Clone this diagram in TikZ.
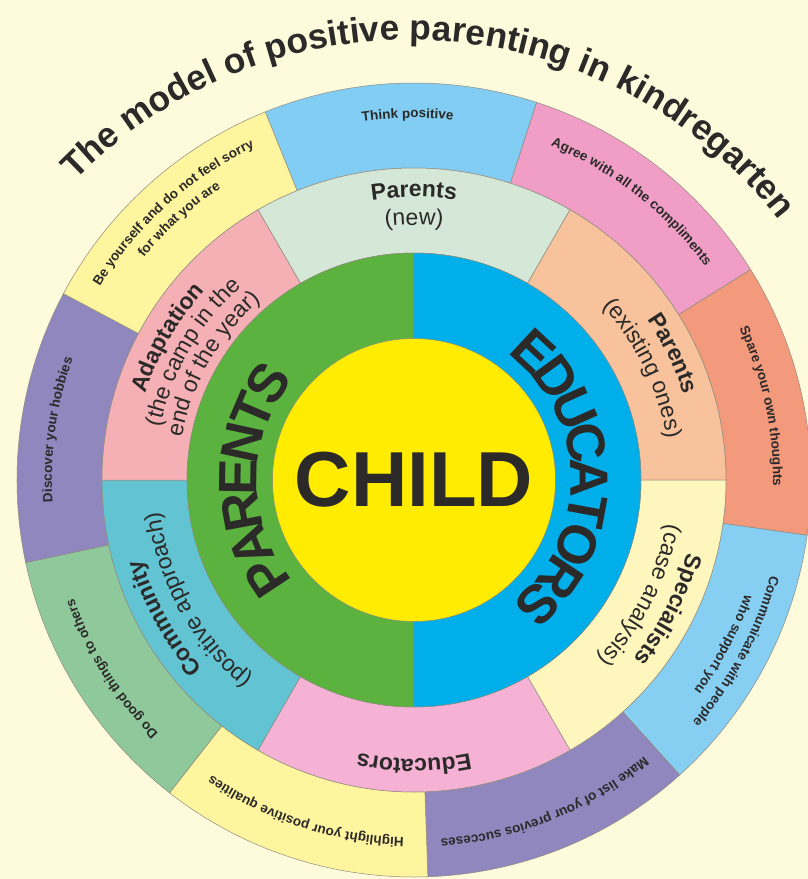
\documentclass[tikz,border=0pt]{standalone}
\usepackage{fontspec}
\setmainfont{Liberation Sans}
\usetikzlibrary{decorations.text}
\definecolor{bg}{HTML}{FEFADC}
\definecolor{txt}{HTML}{2B2A29}
\definecolor{edge}{HTML}{8E8B7E}
\definecolor{cThink}{HTML}{82CDF3}
\definecolor{cAgree}{HTML}{F09EC5}
\definecolor{cSpare}{HTML}{F3997C}
\definecolor{cComm}{HTML}{87CEF3}
\definecolor{cList}{HTML}{9087BE}
\definecolor{cHigh}{HTML}{FFF59E}
\definecolor{cGood}{HTML}{8FC99B}
\definecolor{cHobby}{HTML}{9087BE}
\definecolor{cBe}{HTML}{FFF59E}
\definecolor{cPnew}{HTML}{D5E8D8}
\definecolor{cPold}{HTML}{F8C29C}
\definecolor{cSpec}{HTML}{FFF6BE}
\definecolor{cEduc}{HTML}{F5B2D4}
\definecolor{cComy}{HTML}{62C4D3}
\definecolor{cAdap}{HTML}{F5B0B5}
\definecolor{cGreen}{HTML}{5BB23E}
\definecolor{cBlue}{HTML}{00AEEA}
\definecolor{cYel}{HTML}{FFEC00}
\newcommand\ttlf{\fontsize{35.3}{40}\selectfont\bfseries}
\newcommand\bigf{\fontsize{54}{60}\selectfont\bfseries}
\newcommand\midb{\fontsize{23}{27}\selectfont\bfseries}
\newcommand\midr{\fontsize{23}{27}\selectfont}
\newcommand\outf{\fontsize{13.5}{16}\selectfont\bfseries}
\tikzset{seg/.style={draw=edge, line width=0.5pt}}
% r1 r2 a1 a2 colour
\newcommand\ringsect[5]{%
  \filldraw[seg, fill=#5] (#3:#1) arc[start angle=#3, end angle=#4, radius=#1]
    -- (#4:#2) arc[start angle=#4, end angle=#3, radius=#2] -- cycle;}
% radius, centre angle, half span, raise, text
\newcommand\ringtxt[5]{%
  \pgfmathsetmacro\rtA{#2+#3}\pgfmathsetmacro\rtB{#2-#3}%
  \path[decorate, decoration={text along path, text align=center, text color=txt, raise=#4, text={#5}}]
    (\rtA:#1) arc[start angle=\rtA, end angle=\rtB, radius=#1];}
\begin{document}
\begin{tikzpicture}[x=1pt,y=1pt]
\useasboundingbox (-414,-399) rectangle (394,480);
\fill[bg] (-414,-399) rectangle (394,480);
\begin{scope}
\clip (-414,-399) rectangle (394,480);
% outer ring
\ringsect{312pt}{397pt}{72}{112}{cThink}
\ringsect{312pt}{397pt}{32}{72}{cAgree}
\ringsect{312pt}{397pt}{-8}{32}{cSpare}
\ringsect{312pt}{397pt}{-48}{-8}{cComm}
\ringsect{312pt}{397pt}{-88}{-48}{cList}
\ringsect{312pt}{397pt}{-128}{-88}{cHigh}
\ringsect{312pt}{397pt}{-168}{-128}{cGood}
\ringsect{312pt}{397pt}{152}{192}{cHobby}
\ringsect{312pt}{397pt}{112}{152}{cBe}
% middle ring
\ringsect{227pt}{312pt}{60}{120}{cPnew}
\ringsect{227pt}{312pt}{0}{60}{cPold}
\ringsect{227pt}{312pt}{-60}{0}{cSpec}
\ringsect{227pt}{312pt}{-120}{-60}{cEduc}
\ringsect{227pt}{312pt}{180}{240}{cComy}
\ringsect{227pt}{312pt}{120}{180}{cAdap}
% inner ring
\filldraw[seg, fill=cGreen] (90:227pt) arc[start angle=90, end angle=270, radius=227pt] -- cycle;
\filldraw[seg, fill=cBlue] (-90:227pt) arc[start angle=-90, end angle=90, radius=227pt] -- cycle;
\filldraw[seg, fill=cYel] (0,0) circle[radius=141.5pt];
\end{scope}
\node[font=\fontsize{78}{80}\selectfont\bfseries, text=txt, inner sep=0pt] (child) at (0,0) {CHILD};
% title
\begin{scope}[shift={(-4,-28)}]
\ringtxt{468pt}{86.8}{80}{0pt}{|\ttlf|The model of positive parenting in kindregarten}
\end{scope}
% inner ring text
\ringtxt{190pt}{180}{75}{-33pt}{|\bigf|PARENTS}
\ringtxt{190pt}{1}{75}{-33pt}{|\bigf|EDUCATORS}
% middle ring text
\ringtxt{283pt}{90}{60}{0pt}{|\midb|Parents}
\ringtxt{255pt}{90}{60}{0pt}{|\midr|(new)}
\ringtxt{283pt}{26}{60}{0pt}{|\midb|Parents}
\ringtxt{256pt}{26}{60}{0pt}{|\midr|(existing ones)}
\ringtxt{283pt}{-27}{60}{0pt}{|\midb|Specialists}
\ringtxt{256pt}{-27}{60}{0pt}{|\midr|(case analysis)}
\ringtxt{279pt}{-90}{60}{0pt}{|\midb|Educators}
\ringtxt{283pt}{209}{60}{0pt}{|\midb|Community}
\ringtxt{256pt}{209}{60}{0pt}{|\midr|(positive approach)}
\ringtxt{282pt}{150}{60}{0pt}{|\midb|Adaptation}
\ringtxt{259pt}{150}{60}{0pt}{|\midr|(the camp in the}
\ringtxt{236pt}{150}{60}{0pt}{|\midr|end of the year)}
% outer ring text
\ringtxt{362pt}{91}{60}{0pt}{|\outf|Think positive}
\ringtxt{361pt}{52}{60}{0pt}{|\outf|Agree with all the compliments}
\ringtxt{359pt}{12}{60}{0pt}{|\outf|Spare your own thoughts}
\ringtxt{369pt}{-28}{60}{0pt}{|\outf|Communicate with people}
\ringtxt{350pt}{-28}{60}{0pt}{|\outf|who support you}
\ringtxt{360pt}{-68}{60}{0pt}{|\outf|Make list of your previos succeses}
\ringtxt{358pt}{-108}{60}{0pt}{|\outf|Highlight your positive qualities}
\ringtxt{360pt}{-148}{60}{0pt}{|\outf|Do good things to others}
\ringtxt{362pt}{172}{60}{0pt}{|\outf|Discover your hobbies}
\ringtxt{369pt}{132}{60}{0pt}{|\outf|Be yourself and do not feel sorry}
\ringtxt{350pt}{132}{60}{0pt}{|\outf|for what you are}
\end{tikzpicture}
\end{document}
